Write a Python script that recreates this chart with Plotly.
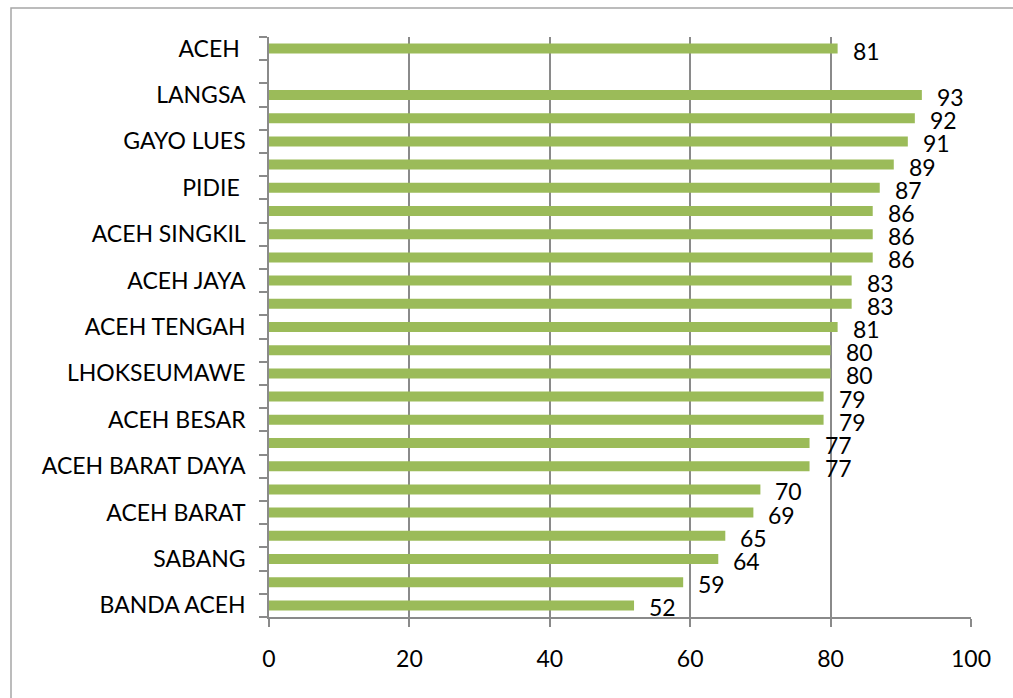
import plotly.graph_objects as go

# Region labels (only every other row carries a printed name) and scores
labels = ["ACEH ", "", "LANGSA", "", "GAYO LUES", "", "PIDIE ", "",
          "ACEH SINGKIL", "", "ACEH JAYA", "", "ACEH TENGAH", "",
          "LHOKSEUMAWE", "", "ACEH BESAR", "", "ACEH BARAT DAYA", "",
          "ACEH BARAT", "", "SABANG", "", "BANDA ACEH"]
values = [81, None, 93, 92, 91, 89, 87, 86, 86, 86, 83, 83, 81, 80, 80,
          79, 79, 77, 77, 70, 69, 65, 64, 59, 52]
x_ticks = [0, 20, 40, 60, 80, 100]

rows = list(range(len(labels)))
boundaries = [r - 0.5 for r in rows] + [len(labels) - 0.5]

BAR = "#9BBB59"
GRID = "#8a8a8a"
FONT = dict(family="Lato, 'Liberation Sans', sans-serif", size=23, color="#000000")

W, H = 1013, 698
ML, MR, MT, MB = 269, 42, 37, 81
PW, PH = W - ML - MR, H - MT - MB

fig = go.Figure()
fig.add_trace(go.Bar(
    x=values, y=rows, orientation="h",
    marker=dict(color=BAR, line=dict(width=0)),
    width=0.43, hoverinfo="x+y",
))

for r, v in zip(rows, values):
    if v is None:
        continue
    fig.add_annotation(
        x=v, y=r, text=str(v), showarrow=False,
        xanchor="left", yanchor="middle", xshift=13, yshift=-2,
        font=FONT,
    )

# Outer chart frame
def px_to_paper_x(px):
    return (px - ML) / PW

def px_to_paper_y(py):
    return (H - MB - py) / PH

fig.add_shape(
    type="rect", xref="paper", yref="paper",
    x0=px_to_paper_x(11), x1=px_to_paper_x(1030),
    y0=px_to_paper_y(715), y1=px_to_paper_y(8),
    line=dict(color="#a6a6a6", width=1.5), fillcolor="rgba(0,0,0,0)",
    layer="below",
)

fig.update_layout(
    width=W, height=H,
    margin=dict(l=ML, r=MR, t=MT, b=MB, pad=0),
    paper_bgcolor="white", plot_bgcolor="white",
    showlegend=False,
    font=FONT,
    xaxis=dict(
        range=[0, 100], tickmode="array", tickvals=x_ticks,
        ticktext=[str(t) for t in x_ticks],
        showgrid=True, gridcolor=GRID, gridwidth=1.5,
        showline=True, linecolor=GRID, linewidth=1.5,
        ticks="outside", ticklen=8, tickcolor=GRID, tickwidth=1.5,
        ticklabelstandoff=13, zeroline=False, fixedrange=True,
        tickfont=FONT,
    ),
    yaxis=dict(
        range=[len(labels) - 0.5, -0.5], tickmode="array", tickvals=rows,
        ticktext=labels, ticks="", showgrid=False, zeroline=False,
        showline=True, linecolor=GRID, linewidth=1.5,
        ticklabelstandoff=17, fixedrange=True, tickfont=FONT,
        minor=dict(tickmode="array", tickvals=boundaries, ticks="outside",
                   ticklen=8, tickcolor=GRID, tickwidth=1.5, showgrid=False),
    ),
)

fig.write_html("out.html")
